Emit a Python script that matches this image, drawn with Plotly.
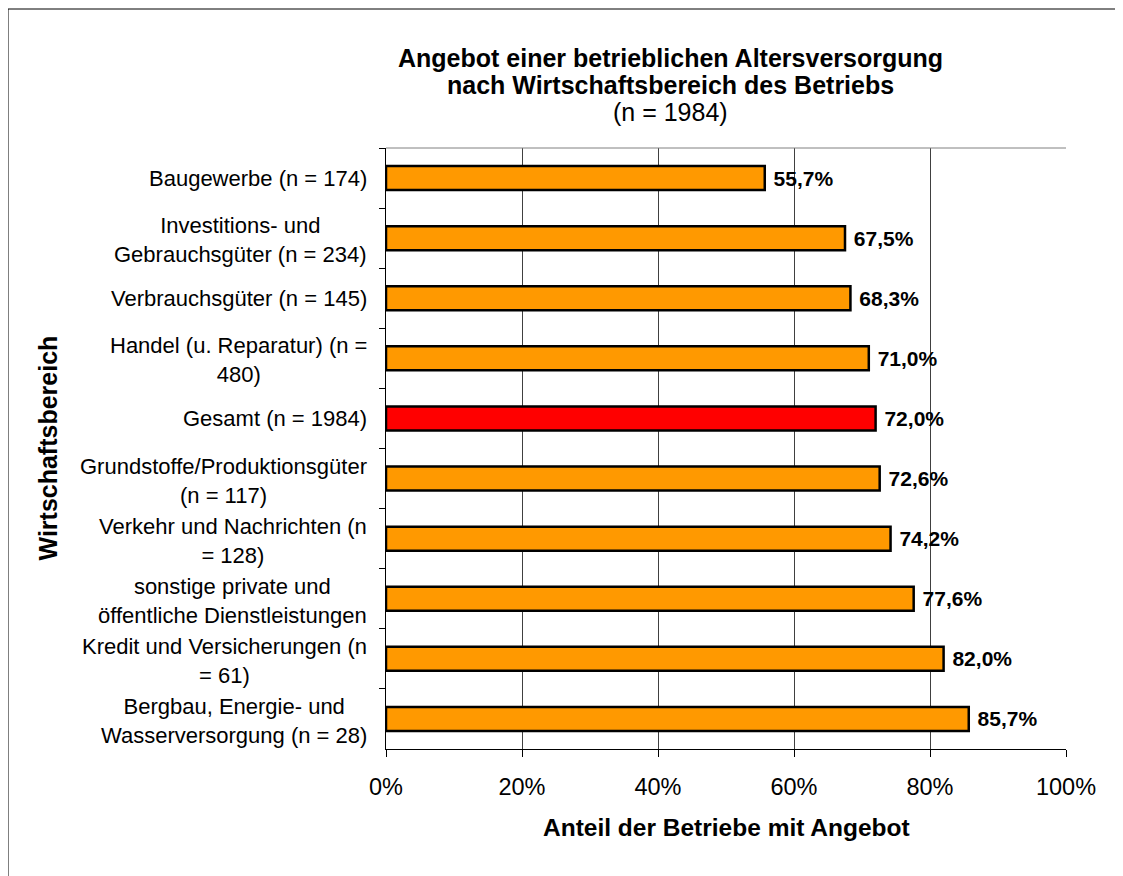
import plotly.graph_objects as go

# data (top to bottom)
categories = [
    'Baugewerbe (n = 174)',
    'Investitions- und<br>Gebrauchsgüter (n = 234)',
    'Verbrauchsgüter (n = 145)',
    'Handel (u. Reparatur) (n =<br>480)',
    'Gesamt (n = 1984)',
    'Grundstoffe/Produktionsgüter<br>(n = 117)',
    'Verkehr und Nachrichten (n<br>= 128)',
    'sonstige private und<br>öffentliche Dienstleistungen',
    'Kredit und Versicherungen (n<br>= 61)',
    'Bergbau, Energie- und<br>Wasserversorgung (n = 28)',
]
shares = [0.557, 0.675, 0.683, 0.710, 0.720, 0.726, 0.742, 0.776, 0.820, 0.857]
x_ticks = [0, 0.2, 0.4, 0.6, 0.8, 1.0]
x_tick_labels = ['0%', '20%', '40%', '60%', '80%', '100%']

title_lines = [
    '<b>Angebot einer betrieblichen Altersversorgung</b>',
    '<b>nach Wirtschaftsbereich des Betriebs</b>',
    '(n = 1984)',
]

FONT = 'Liberation Sans, Arial, sans-serif'
# the page body adds 8px around the figure, so build the figure 8px smaller
OFF = 8
W, H = 1123 - OFF, 876 - OFF
L, R, T, B = 386 - OFF, 57, 148 - OFF, 127

def px_x(px):
    # screen x -> paper x
    return (px - OFF - L) / (W - L - R)

def px_y(py):
    # screen y -> paper y
    return (H - B - (py - OFF)) / (H - T - B)

colors = ['#FF0000' if c.startswith('Gesamt') else '#FF9900' for c in categories]
labels = ['\u00a0' + f'{v * 100:.1f}'.replace('.', ',') + '%' for v in shares]

fig = go.Figure(go.Bar(
    x=shares,
    y=categories,
    orientation='h',
    width=0.4,
    marker=dict(color=colors, line=dict(color='black', width=2.5)),
    text=labels,
    textposition='outside',
    outsidetextfont=dict(family=FONT, size=21, color='black', weight='bold'),
    constraintext='none',
    cliponaxis=False,
    hoverinfo='skip',
))

annotations = []
for c in categories:
    two = '<br>' in c
    annotations.append(dict(
        x=0, xref='paper', y=c, yref='y', text=c, showarrow=False,
        xanchor='right', yanchor='middle', align='center', xshift=-17,
        yshift=-2 if two else 0,
        font=dict(family=FONT, size=22, color='black'),
    ))

for line, py in zip(title_lines, [58, 85, 112]):
    annotations.append(dict(
        x=px_x(670), xref='paper', y=px_y(py), yref='paper', text=line,
        showarrow=False, xanchor='center', yanchor='middle',
        font=dict(family=FONT, size=25, color='black'),
    ))

annotations.append(dict(
    x=0.5, xref='paper', y=px_y(828), yref='paper',
    text='<b>Anteil der Betriebe mit Angebot</b>', showarrow=False,
    xanchor='center', yanchor='middle',
    font=dict(family=FONT, size=24.5, color='black'),
))
annotations.append(dict(
    x=px_x(47), xref='paper', y=0.5, yref='paper',
    text='<b>Wirtschaftsbereich</b>', showarrow=False, textangle=-90,
    xanchor='center', yanchor='middle',
    font=dict(family=FONT, size=25, color='black'),
))

fig.update_layout(
    width=W, height=H,
    margin=dict(l=L, r=R, t=T, b=B),
    plot_bgcolor='white', paper_bgcolor='white',
    showlegend=False,
    font=dict(family=FONT, color='black'),
    annotations=annotations,
    shapes=[
        # outer chart frame
        dict(type='rect', xref='paper', yref='paper',
             x0=px_x(8), x1=px_x(1116), y0=px_y(890), y1=px_y(9),
             line=dict(color='black', width=1), fillcolor='rgba(0,0,0,0)', layer='below'),
        # top edge of plot area
        dict(type='line', xref='paper', yref='paper', x0=0, x1=1, y0=1, y1=1,
             line=dict(color='#808080', width=1)),
    ],
)

fig.update_xaxes(
    range=[0, 1], tickvals=x_ticks, ticktext=x_tick_labels,
    showgrid=True, gridcolor='#404040', gridwidth=1,
    showline=True, linecolor='black', linewidth=1,
    ticks='outside', ticklen=7, tickcolor='black',
    tickfont=dict(family=FONT, size=23.5, color='black'),
    ticklabelstandoff=10,
    zeroline=False, fixedrange=True,
)
fig.update_yaxes(
    autorange='reversed', showticklabels=False,
    showline=True, linecolor='black', linewidth=1,
    ticks='outside', ticklen=6, tickcolor='black', tickson='boundaries',
    showgrid=False, fixedrange=True,
)

fig.write_html('out.html')
